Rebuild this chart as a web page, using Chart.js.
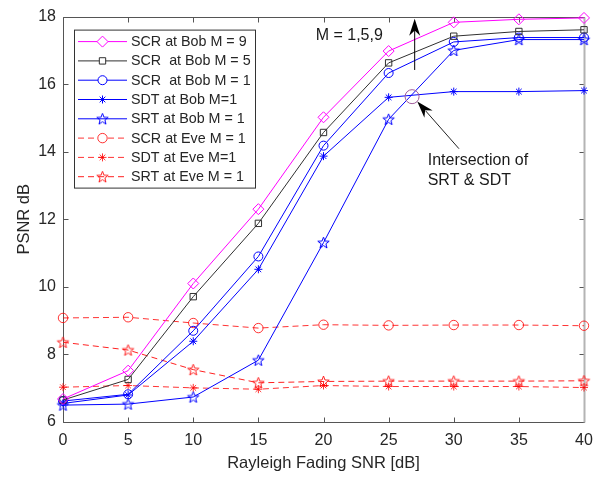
<!DOCTYPE html>
<html><head><meta charset="utf-8">
<script src="https://cdn.jsdelivr.net/npm/chart.js@4/dist/chart.umd.min.js"></script>
<style>html,body{margin:0;padding:0;background:#fff}#wrap{width:607px;height:477px;position:relative}</style>
</head><body><div id="wrap"><canvas id="c" width="607" height="477"></canvas></div>
<script>
// ---- data ----
const snr = [0, 5, 10, 15, 20, 25, 30, 35, 40];
const scrBobM9 = [6.68, 7.52, 10.10, 12.30, 15.02, 16.98, 17.83, 17.92, 17.96];
const scrBobM5 = [6.65, 7.26, 9.71, 11.88, 14.57, 16.63, 17.42, 17.56, 17.61];
const scrBobM1 = [6.62, 6.82, 8.70, 10.90, 14.18, 16.33, 17.25, 17.38, 17.38];
const sdtBobM1 = [6.55, 6.80, 8.39, 10.52, 13.87, 15.61, 15.78, 15.78, 15.81];
const srtBobM1 = [6.50, 6.53, 6.74, 7.83, 11.31, 14.96, 17.00, 17.32, 17.32];
const scrEveM1 = [9.08, 9.10, 8.93, 8.78, 8.88, 8.86, 8.87, 8.87, 8.85];
const sdtEveM1 = [7.03, 7.08, 7.01, 6.97, 7.08, 7.05, 7.05, 7.05, 7.02];
const srtEveM1 = [8.36, 8.13, 7.55, 7.16, 7.20, 7.21, 7.21, 7.21, 7.22];
const seriesLabels = ['SCR at Bob M = 9', 'SCR  at Bob M = 5', 'SCR  at Bob M = 1', 'SDT at Bob M=1',
  'SRT at Bob M = 1', 'SCR at Eve M = 1', 'SDT at Eve M=1', 'SRT at Eve M = 1'];
const xTicks = [0, 5, 10, 15, 20, 25, 30, 35, 40];
const yTicks = [6, 8, 10, 12, 14, 16, 18];
const xTitle = 'Rayleigh Fading SNR [dB]';
const yTitle = 'PSNR dB';
// annotation anchors (data coordinates)
const mArrow = {x: 27.0, y0: 16.42, y1: 17.94};
const mText = {x: 19.4, y: 17.45, text: 'M = 1,5,9'};
const interCircle = {x: 26.8, y: 15.63};
const interArrow = {x0: 30.4, y0: 14.09, x1: 27.2, y1: 15.49};
const interText = {x: 28.0, y: [13.74, 13.15], text: ['Intersection of', 'SRT & SDT']};

// ---- styles ----
const BLUE = '#0000ff', RED = 'rgba(255,0,0,0.8)', MAG = '#ff00ff', BLK = '#303030';
function makeStar(color) {
  const c = document.createElement('canvas'); c.width = 15; c.height = 15;
  const g = c.getContext('2d'); g.strokeStyle = color; g.lineWidth = 1;
  g.beginPath();
  for (let i = 0; i < 10; i++) {
    const r = i % 2 ? 2.5 : 6; const a = -Math.PI / 2 + i * Math.PI / 5;
    const x = 7.5 + r * Math.cos(a), y = 8 + r * Math.sin(a);
    i ? g.lineTo(x, y) : g.moveTo(x, y);
  }
  g.closePath(); g.stroke(); return c;
}
const starBlue = makeStar(BLUE), starRed = makeStar('#ff2020');

function ds(label, data, color, style, radius, dashed) {
  return {
    label, data: snr.map((x, i) => ({x, y: data[i]})),
    borderColor: color, backgroundColor: 'rgba(0,0,0,0)', borderWidth: 1,
    borderDash: dashed ? [6, 4] : [], pointStyle: style, pointRadius: radius,
    pointBorderColor: color, pointBackgroundColor: 'rgba(0,0,0,0)', pointBorderWidth: 1,
    tension: 0, clip: false, fill: false
  };
}
const datasets = [
  ds(seriesLabels[0], scrBobM9, MAG, 'rectRot', 5.5, false),
  ds(seriesLabels[1], scrBobM5, BLK, 'rect', 4.5, false),
  ds(seriesLabels[2], scrBobM1, BLUE, 'circle', 4.5, false),
  ds(seriesLabels[3], sdtBobM1, BLUE, 'star', 4, false),
  ds(seriesLabels[4], srtBobM1, BLUE, starBlue, 6, false),
  ds(seriesLabels[5], scrEveM1, RED, 'circle', 4.7, true),
  ds(seriesLabels[6], sdtEveM1, RED, 'star', 4, true),
  ds(seriesLabels[7], srtEveM1, '#ff2020', starRed, 6, true)
];

const FONT = "'Liberation Sans', Arial, sans-serif";
const TXT = '#262626';

const boxPlugin = {
  id: 'box',
  beforeDatasetsDraw(chart) {
    const {ctx, chartArea: a, scales: {x, y}} = chart;
    ctx.save();
    ctx.strokeStyle = '#555'; ctx.lineWidth = 1;
    const L = Math.round(a.left) + 0.5, R = Math.round(a.right) + 0.5, T = Math.round(a.top) + 0.5, B = Math.round(a.bottom) + 0.5;
    ctx.beginPath();
    ctx.moveTo(L, T); ctx.lineTo(L, B); ctx.lineTo(R, B);
    ctx.moveTo(L, T); ctx.lineTo(R, T);
    const tl = 5;
    xTicks.forEach(v => { const px = Math.round(x.getPixelForValue(v)) + 0.5; ctx.moveTo(px, B); ctx.lineTo(px, B - tl); ctx.moveTo(px, T); ctx.lineTo(px, T + tl); });
    yTicks.forEach(v => { const py = Math.round(y.getPixelForValue(v)) + 0.5; ctx.moveTo(L, py); ctx.lineTo(L + tl, py); ctx.moveTo(R, py); ctx.lineTo(R - tl, py); });
    ctx.stroke();
    ctx.strokeStyle = '#b4b4b4'; ctx.lineWidth = 2;
    ctx.beginPath(); ctx.moveTo(R, T); ctx.lineTo(R, B); ctx.stroke();
    ctx.restore();
  }
};

function arrowHead(ctx, x0, y0, x1, y1, len, half) {
  const ang = Math.atan2(y1 - y0, x1 - x0);
  const c = Math.cos(ang), s = Math.sin(ang);
  const bx = x1 - c * len, by = y1 - s * len;
  const nx = x1 - c * len * 0.7, ny = y1 - s * len * 0.7;
  ctx.beginPath();
  ctx.moveTo(x1, y1);
  ctx.lineTo(bx - s * half, by + c * half);
  ctx.lineTo(nx, ny);
  ctx.lineTo(bx + s * half, by - c * half);
  ctx.closePath(); ctx.fill();
}

const annoPlugin = {
  id: 'anno',
  afterDatasetsDraw(chart) {
    const {ctx, scales: {x, y}} = chart;
    ctx.save();
    ctx.fillStyle = '#000'; ctx.strokeStyle = '#000'; ctx.lineWidth = 1;
    let ax = x.getPixelForValue(mArrow.x), ay0 = y.getPixelForValue(mArrow.y0), ay1 = y.getPixelForValue(mArrow.y1);
    ctx.beginPath(); ctx.moveTo(ax, ay0); ctx.lineTo(ax, ay1 + 10); ctx.stroke();
    arrowHead(ctx, ax, ay0, ax, ay1, 17, 5.5);
    ctx.font = '16px ' + FONT; ctx.fillStyle = '#1a1a1a'; ctx.textBaseline = 'middle'; ctx.textAlign = 'left';
    ctx.fillText(mText.text, x.getPixelForValue(mText.x), y.getPixelForValue(mText.y));
    ctx.strokeStyle = '#a05a9a';
    ctx.beginPath(); ctx.arc(x.getPixelForValue(interCircle.x), y.getPixelForValue(interCircle.y), 7, 0, Math.PI * 2); ctx.stroke();
    ctx.strokeStyle = '#222'; ctx.fillStyle = '#000';
    const x0 = x.getPixelForValue(interArrow.x0), y0 = y.getPixelForValue(interArrow.y0), x1 = x.getPixelForValue(interArrow.x1), y1 = y.getPixelForValue(interArrow.y1);
    ctx.beginPath(); ctx.moveTo(x0, y0); ctx.lineTo(x1 + (x0 - x1) * 0.2, y1 + (y0 - y1) * 0.2); ctx.stroke();
    arrowHead(ctx, x0, y0, x1, y1, 17, 5.5);
    ctx.fillStyle = '#1a1a1a';
    interText.text.forEach((t, i) => ctx.fillText(t, x.getPixelForValue(interText.x), y.getPixelForValue(interText.y[i])));
    ctx.restore();
  }
};

const legendPlugin = {
  id: 'mlegend',
  afterDraw(chart) {
    const {ctx, chartArea: a} = chart;
    const bx = a.left + 11, by = a.top + 13, bw = 181, bh = 158;
    ctx.save();
    ctx.fillStyle = '#fff'; ctx.fillRect(bx, by, bw, bh);
    ctx.strokeStyle = '#333'; ctx.lineWidth = 1; ctx.strokeRect(bx + 0.5, by + 0.5, bw, bh);
    ctx.font = '14.3px ' + FONT; ctx.textBaseline = 'middle'; ctx.textAlign = 'left';
    chart.data.datasets.forEach((d, i) => {
      const yy = by + 12 + i * 19.3;
      ctx.strokeStyle = d.borderColor; ctx.lineWidth = 1; ctx.setLineDash(d.borderDash || []);
      ctx.beginPath(); ctx.moveTo(bx + 4, yy); ctx.lineTo(bx + 53, yy); ctx.stroke();
      ctx.setLineDash([]);
      const mx = bx + 28.5;
      if (d.pointStyle instanceof HTMLCanvasElement) {
        ctx.drawImage(d.pointStyle, mx - d.pointStyle.width / 2, yy - d.pointStyle.height / 2);
      } else {
        ctx.fillStyle = '#fff';
        ctx.strokeStyle = d.borderColor; ctx.lineWidth = 1;
        Chart.helpers.drawPoint(ctx, {pointStyle: d.pointStyle, radius: d.pointRadius, rotation: 0, borderWidth: 1}, mx, yy);
      }
      ctx.fillStyle = TXT;
      ctx.fillText(d.label, bx + 57, yy + 0.5);
    });
    ctx.restore();
  }
};

new Chart(document.getElementById('c'), {
  type: 'line',
  data: {datasets},
  options: {
    responsive: false, devicePixelRatio: 1, animation: false,
    layout: {padding: {top: 11, right: 23, left: 0, bottom: 0}},
    plugins: {legend: {display: false}, tooltip: {enabled: false}},
    scales: {
      x: {
        type: 'linear', min: 0, max: 40,
        afterFit(s) { s.height = 55; },
        afterBuildTicks(s) { s.ticks = xTicks.map(v => ({value: v})); },
        grid: {display: false, drawTicks: false}, border: {display: false},
        ticks: {color: TXT, font: {family: FONT, size: 16}, padding: 9, maxRotation: 0, autoSkip: false},
        title: {display: true, text: xTitle, color: TXT, font: {family: FONT, size: 16.5}, padding: {top: 0, bottom: 4}}
      },
      y: {
        type: 'linear', min: 6, max: 18,
        afterFit(s) { s.width = 63; },
        afterBuildTicks(s) { s.ticks = yTicks.map(v => ({value: v})); },
        grid: {display: false, drawTicks: false}, border: {display: false},
        ticks: {color: TXT, font: {family: FONT, size: 16}, padding: 7, autoSkip: false},
        title: {display: true, text: yTitle, color: TXT, font: {family: FONT, size: 16.5}, padding: {top: 15, bottom: 0}}
      }
    }
  },
  plugins: [boxPlugin, annoPlugin, legendPlugin]
});
</script></body></html>
